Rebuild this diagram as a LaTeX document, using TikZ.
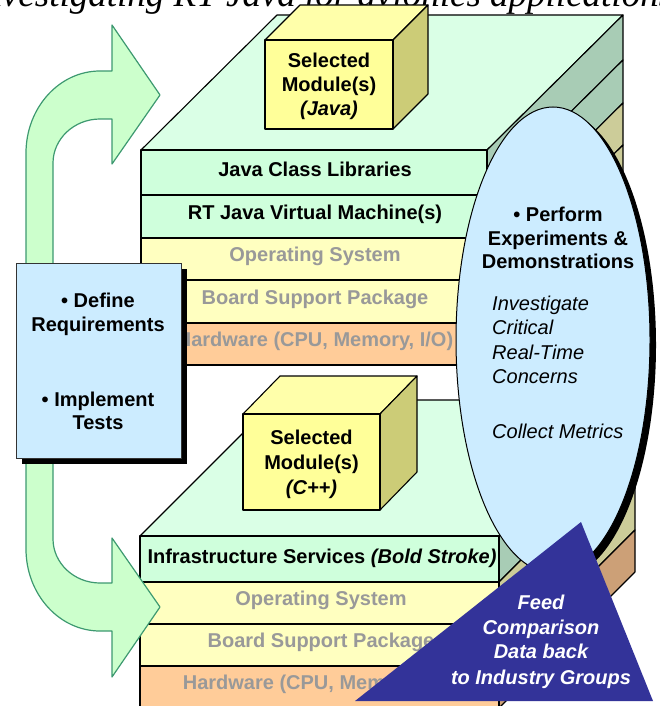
\documentclass[tikz,border=0pt]{standalone}
\usepackage{fontspec}
\setmainfont{Liberation Sans}
\newfontfamily\titlefont{Liberation Serif}
\definecolor{topface}{HTML}{DAFFE6}
\definecolor{gfront}{HTML}{CFFFDC}
\definecolor{gside}{HTML}{A8CCB5}
\definecolor{yfront}{HTML}{FFFFC0}
\definecolor{yside}{HTML}{CCCC99}
\definecolor{ofront}{HTML}{FFCC99}
\definecolor{oside}{HTML}{CCA077}
\definecolor{cubefront}{HTML}{FFFF99}
\definecolor{cubetop}{HTML}{FFFFAA}
\definecolor{cubeside}{HTML}{CCCC77}
\definecolor{graytxt}{HTML}{999999}
\definecolor{paleblue}{HTML}{CCECFF}
\definecolor{triblue}{HTML}{333399}
\definecolor{arrowfill}{HTML}{CCFFCC}
\definecolor{arrowline}{HTML}{3D9970}
\tikzset{
  slab/.style={draw=black, line width=1.1pt, line join=round},
  btxt/.style={font=\fontsize{20}{24}\selectfont\bfseries, inner sep=0pt, anchor=base},
  gtxt/.style={btxt, text=graytxt},
  itxt/.style={font=\fontsize{20}{24}\selectfont\itshape, inner sep=0pt, anchor=base west},
  wtxt/.style={font=\fontsize{20}{24}\selectfont\bfseries\itshape, text=white, inner sep=0pt, anchor=base},
}
\begin{document}
\begin{tikzpicture}[x=1pt,y=-1pt]
\useasboundingbox (0,0) rectangle (660,706);
\begin{scope}
\clip (0,0) rectangle (660,706);
% title (cut off at the top edge, as in the reference)
\node[font=\titlefont\itshape\fontsize{37}{42}\selectfont, anchor=base west, inner sep=0pt] (title) at (-29,6.5) {Investigating RT Java for avionics applications};

% ---------- top stack ----------
\filldraw[slab, fill=topface] (141,150) -- (277,15) -- (623,15) -- (487,150) -- cycle;
\foreach \a/\b/\f/\s in {150/195/gfront/gside,195/238/gfront/gside,238/280/yfront/yside,280/323/yfront/yside,323/365/ofront/oside}{
  \filldraw[slab, fill=\s] (487,\a) -- (623,\a-135) -- (623,\b-135) -- (487,\b) -- cycle;
  \filldraw[slab, fill=\f] (141,\a) rectangle (487,\b);
}
\node[btxt] (jcl) at (315,176) {Java Class Libraries};
\node[btxt] (jvm) at (315,219) {RT Java Virtual Machine(s)};
\node[gtxt] (os1) at (315,261) {Operating System};
\node[gtxt] (bsp1) at (315,304) {Board Support Package};
\node[gtxt] (hw1) at (315,346) {Hardware (CPU, Memory, I/O)};
% java cube
\filldraw[slab, fill=cubetop] (265,40) -- (300,5) -- (428,5) -- (393,40) -- cycle;
\filldraw[slab, fill=cubeside] (393,40) -- (428,5) -- (428,94) -- (393,129) -- cycle;
\filldraw[slab, fill=cubefront] (265,40) rectangle (393,129);
\node[btxt] (sel1) at (329,68) {Selected};
\node[btxt] (mod1) at (329,92) {Module(s)};
\node[btxt] (lang1) at (329,116) {\textit{(Java)}};

% ---------- bottom stack ----------
\filldraw[slab, fill=topface] (140,536) -- (276,400) -- (635,400) -- (499,536) -- cycle;
\foreach \a/\b/\f/\s in {536/582/gfront/gside,582/624/yfront/yside,624/666/yfront/yside,666/708/ofront/oside}{
  \filldraw[slab, fill=\s] (499,\a) -- (635,\a-136) -- (635,\b-136) -- (499,\b) -- cycle;
  \filldraw[slab, fill=\f] (140,\a) rectangle (499,\b);
}
\node[btxt] (infra) at (322,563) {Infrastructure Services \textit{(Bold Stroke)}};
\node[gtxt] (os2) at (321,605) {Operating System};
\node[gtxt] (bsp2) at (321,647) {Board Support Package};
\node[gtxt] (hw2) at (321,689) {Hardware (CPU, Memory, I/O)};
% c++ cube
\filldraw[slab, fill=cubetop] (243,414) -- (280,376) -- (417,376) -- (380,414) -- cycle;
\filldraw[slab, fill=cubeside] (380,414) -- (417,376) -- (417,472) -- (380,510) -- cycle;
\filldraw[slab, fill=cubefront] (243,414) rectangle (380,510);
\node[btxt] (sel2) at (311.5,444) {Selected};
\node[btxt] (mod2) at (311.5,469) {Module(s)};
\node[btxt] (lang2) at (311.5,494) {\textit{(C++)}};

% ---------- green loop arrow ----------
\filldraw[fill=arrowfill, draw=arrowline, line width=1.2pt, line join=round]
  (112,25) -- (160,95) -- (112,164) -- (112,119) -- (100,119)
  .. controls (74,119) and (53,139) .. (53,163)
  -- (53,539)
  .. controls (53,563) and (74,583) .. (100,583)
  -- (112,583) -- (112,538) -- (160,607) -- (112,677) -- (112,631) -- (100,631)
  .. controls (59,631) and (26,594) .. (26,549)
  -- (26,153)
  .. controls (26,108) and (59,71) .. (100,71)
  -- (112,71) -- cycle;

% ---------- requirements box ----------
\fill[black] (22,269) rectangle (187,464);
\node[draw=black!80, line width=1pt, fill=paleblue, minimum width=165pt, minimum height=195pt, anchor=north west, inner sep=0pt] (reqbox) at (16,263) {};
\node[btxt] (def) at (98,307) {• Define};
\node[btxt] (req) at (98,331) {Requirements};
\node[btxt] (impl) at (98,406) {• Implement};
\node[btxt] (tests) at (98,429) {Tests};

% ---------- experiments ellipse ----------
\fill[black] (559,345) ellipse [x radius=97, y radius=233];
\filldraw[fill=paleblue, draw=black, line width=1pt] (553,340) ellipse [x radius=97, y radius=233];
\node[btxt] (perf) at (558,221) {• Perform};
\node[btxt] (exper) at (558,245) {Experiments \&};
\node[btxt] (demo) at (558,268) {Demonstrations};
\node[itxt] (inv) at (492,310) {Investigate};
\node[itxt] (crit) at (492,334) {Critical};
\node[itxt] (rt) at (492,359) {Real-Time};
\node[itxt] (conc) at (492,383) {Concerns};
\node[itxt] (coll) at (492,438) {Collect Metrics};

% ---------- feed triangle ----------
\fill[triblue] (581,522) -- (355,701) -- (653,701) -- cycle;
\node[wtxt] (feed) at (541,609) {Feed};
\node[wtxt] (comp) at (541,634) {Comparison};
\node[wtxt] (data) at (541,658) {Data back};
\node[wtxt] (ind) at (541,684) {to Industry Groups};
\end{scope}
\end{tikzpicture}
\end{document}
